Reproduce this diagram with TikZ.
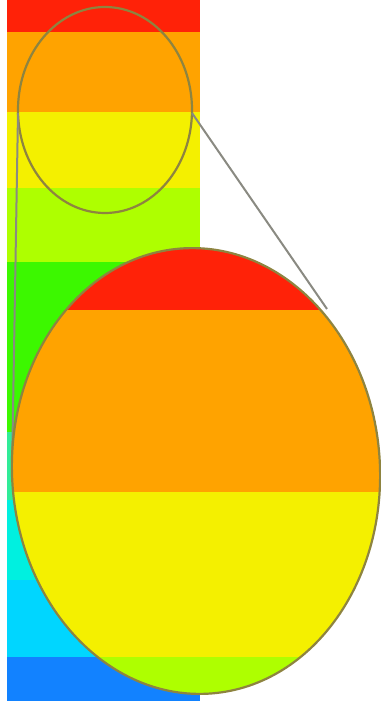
\documentclass[tikz,border=0pt]{standalone}
\usetikzlibrary{calc}
\definecolor{cbred}{HTML}{FF2208}
\definecolor{cborange}{HTML}{FFA300}
\definecolor{cbyellow}{HTML}{F4F000}
\definecolor{cblime}{HTML}{AEFF00}
\definecolor{cbgreen}{HTML}{3CF800}
\definecolor{cbspring}{HTML}{30EC98}
\definecolor{cbturq}{HTML}{00F0E0}
\definecolor{cbcyan}{HTML}{00D6FF}
\definecolor{cbblue}{HTML}{1282FF}
\definecolor{rimolive}{HTML}{8E8440}
\definecolor{raygray}{HTML}{8A8A82}
\tikzset{
  lensrim/.style={draw=rimolive, line width=2.2pt},
  zoomray/.style={draw=raygray, line width=2pt},
}
\begin{document}
\begin{tikzpicture}[x=1pt,y=-1pt]
\useasboundingbox (0,0) rectangle (380,701);
\fill[white] (0,0) rectangle (380,701);
% colour bar
\foreach \ya/\yb/\col in {0/32/cbred, 32/112/cborange, 112/188/cbyellow,
    188/262/cblime, 262/432/cbgreen, 432/500/cbspring, 500/580/cbturq,
    580/657/cbcyan, 657/701/cbblue}
  \fill[\col] (7,\ya) rectangle (200,\yb);
% small lens and rays
\coordinate (smallc) at (105,110);
\coordinate (smallw) at (18,113);
\coordinate (smalle) at (192,113);
\coordinate (bigw) at (12,471);
\coordinate (bige) at (327,309);
\draw[lensrim] (smallc) ellipse [x radius=87, y radius=103];
\draw[zoomray] (smallw) -- (bigw);
\draw[zoomray] (smalle) -- (bige);
% magnified lens
\coordinate (bigc) at (196,471);
\begin{scope}
  \clip[rotate around={3:(bigc)}] (bigc) ellipse [x radius=184, y radius=223];
  \foreach \ya/\yb/\col in {200/310/cbred, 310/492/cborange,
      492/657/cbyellow, 657/720/cblime}
    \fill[\col] (0,\ya) rectangle (420,\yb);
\end{scope}
\draw[lensrim, rotate around={3:(bigc)}] (bigc) ellipse [x radius=184, y radius=223];
\end{tikzpicture}
\end{document}
